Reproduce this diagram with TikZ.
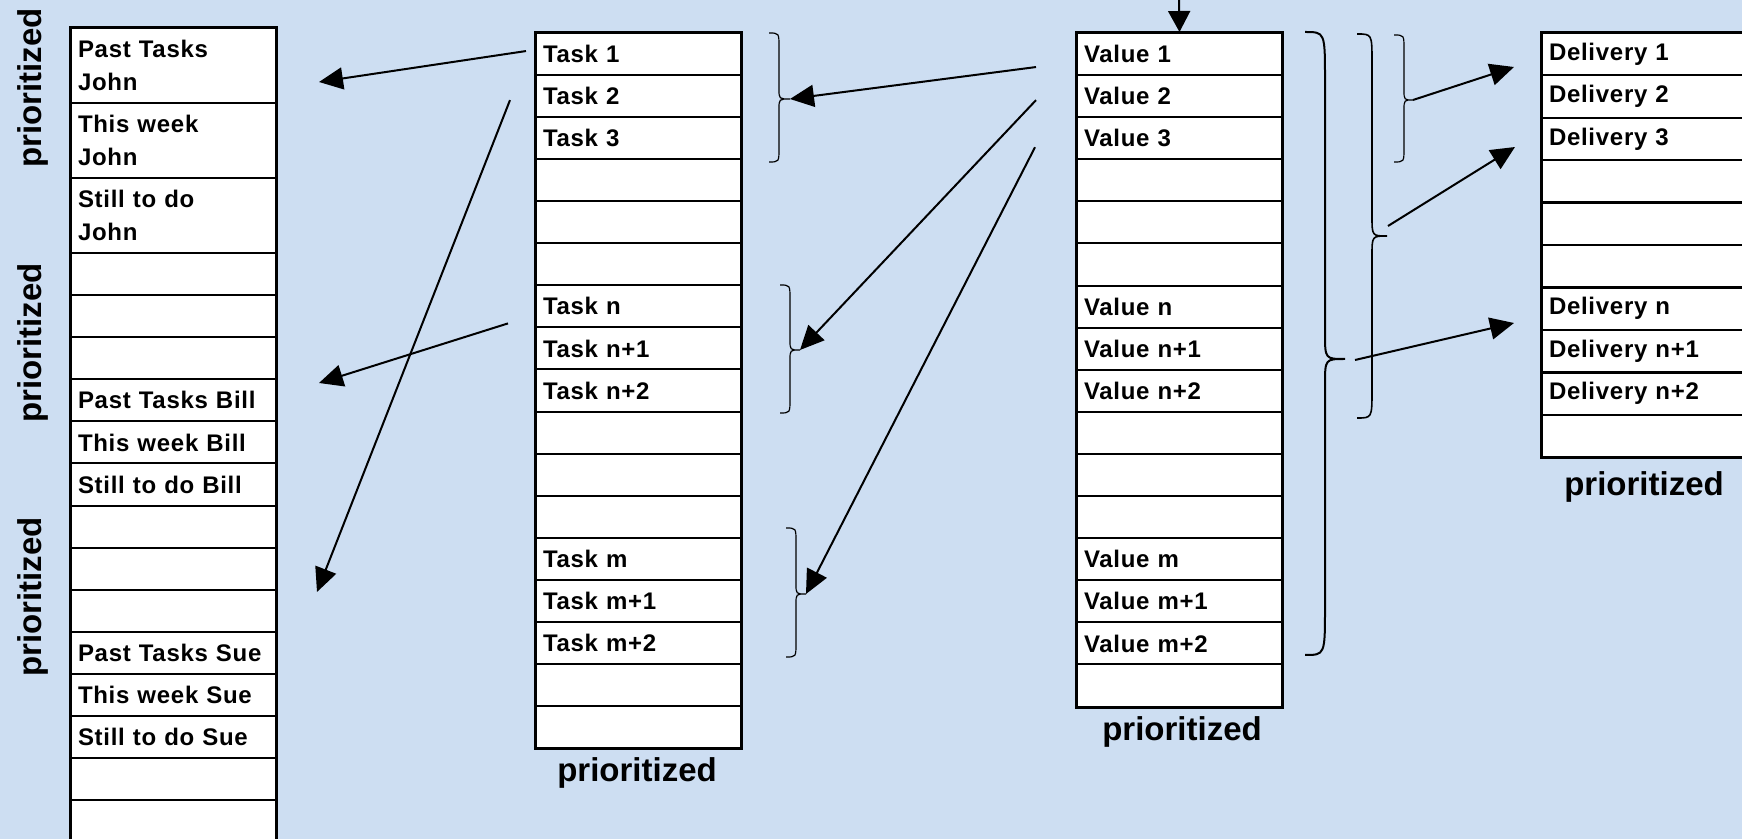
\documentclass[tikz,border=0pt]{standalone}
\usepackage{fontspec}
\setmainfont{Liberation Sans}
\newfontfamily\cellfamily[LetterSpace=3]{Liberation Sans}
\usetikzlibrary{arrows.meta,calc}
\definecolor{paper}{RGB}{205,222,242}

% right-hand curly brace: name, end x, top y, bottom y, bar x, tip x, tip y, end radius, middle radius
\newcommand{\bracepath}[9]{%
  \coordinate (#1) at (#6,#7);
  \draw (#2,#3) .. controls (#5,#3) .. (#5,#3+#8) -- (#5,#7-#9)
        .. controls (#5,#7) .. (#6,#7)
        .. controls (#5,#7) .. (#5,#7+#9) -- (#5,#4-#8)
        .. controls (#5,#4) .. (#2,#4);}

\tikzset{
  cell/.style={draw=black, line width=1pt, fill=white, anchor=north west,
    inner xsep=3.5pt, inner ysep=0pt, text width=95.5pt, minimum height=21.05pt,
    align=left, font=\cellfamily\bfseries\fontsize{12}{16.5}\selectfont},
  tallcell/.style={cell, minimum height=37.5pt},
  frame/.style={draw=black, line width=1.3pt},
  caption/.style={font=\bfseries\fontsize{16.5}{18}\selectfont, inner sep=0pt},
  arr/.style={draw=black, line width=1pt, -{Triangle[length=12pt,width=11pt]}},
}

\begin{document}
\begin{tikzpicture}[x=0.5pt,y=-0.5pt]
\useasboundingbox (0,0) rectangle (1742,839);
\fill[paper] (0,0) rectangle (1742,839);
\begin{scope}
\clip (0,0) rectangle (1742,839);

% people column
\node[tallcell] (p1) at (70,27) {Past Tasks\\John};
\node[tallcell] (p2) at (70,102) {This week\\John};
\node[tallcell] (p3) at (70,177) {Still to do\\John};
\foreach \i/\lbl in {4/,5/,6/,7/Past Tasks Bill,8/This week Bill,9/Still to do Bill,
    10/,11/,12/,13/Past Tasks Sue,14/This week Sue,15/Still to do Sue,16/}
  \node[cell] (p\i) at (70,{252+(\i-4)*42.1}) {\lbl};
\node[cell, minimum height=30pt] (p17) at (70,{252+13*42.1}) {};
\draw[frame] (p1.north west) rectangle (p17.south east);

% task column
\foreach \i/\lbl in {1/Task 1,2/Task 2,3/Task 3,4/,5/,6/,7/Task n,8/Task n+1,9/Task n+2,
    10/,11/,12/,13/Task m,14/Task m+1,15/Task m+2,16/,17/}
  \node[cell] (t\i) at (535,{32+(\i-1)*42.06}) {\lbl};
\draw[frame] (t1.north west) rectangle (t17.south east);

% value column
\foreach \i/\lbl in {1/Value 1,2/Value 2,3/Value 3,4/,5/,6/,7/Value n,8/Value n+1,9/Value n+2,
    10/,11/,12/,13/Value m,14/Value m+1,15/Value m+2,16/}
  \node[cell] (v\i) at (1076,{32+(\i-1)*42.1}) {\lbl};
\draw[frame] (v1.north west) rectangle (v16.south east);

% delivery column
\foreach \i/\lbl in {1/Delivery 1,2/Delivery 2,3/Delivery 3,4/,5/,6/,7/Delivery n,
    8/Delivery n+1,9/Delivery n+2,10/}
  \node[cell] (d\i) at (1541,{32+(\i-1)*42.44}) {\lbl};
\draw[frame] (d1.north west) rectangle (d10.south east);

% captions
\node[caption] (capT) at (637,773) {prioritized};
\node[caption] (capV) at (1182,732) {prioritized};
\node[caption] (capD) at (1644,487) {prioritized};
\node[caption, rotate=90] (capJ) at (33,88) {prioritized};
\node[caption, rotate=90] (capB) at (33,343) {prioritized};
\node[caption, rotate=90] (capS) at (33,597) {prioritized};

% braces
\begin{scope}[line width=0.6pt]
  \bracepath{bA}{769}{33}{162}{779}{790}{99}{14}{10}
  \bracepath{bB}{780}{285}{413}{790}{800}{350}{14}{10}
  \bracepath{bC}{786}{528}{657}{796}{806}{594}{14}{10}
  \bracepath{bS}{1394}{35}{162}{1404}{1413}{100}{14}{10}
\end{scope}
\begin{scope}[line width=0.8pt]
  \bracepath{bM}{1357}{34}{418}{1372}{1387}{236}{28}{20}
\end{scope}
\begin{scope}[line width=1pt]
  \bracepath{bL}{1305}{32}{655}{1325}{1345}{359}{48}{26}
\end{scope}

% free arrow ends
\coordinate (pJ) at (319,82);
\coordinate (pB) at (319,383);
\coordinate (pS) at (317,592);
\coordinate (dA) at (1514,67);
\coordinate (dB) at (1515,147);
\coordinate (dC) at (1514,323);
\coordinate (feed) at (1179,-5);

% connectors
\draw[arr] ($(t1.west)+(-9,-3)$) -- (pJ);
\draw[arr] ($(t2.west)+(-25,4)$) -- (pS);
\draw[arr] ($(t7.west)+(-27,17)$) -- (pB);
\draw[arr] ($(v1.west)+(-40,13)$) -- (bA);
\draw[arr] ($(v2.west)+(-40,4)$) -- (bB);
\draw[arr] ($(v3.west)+(-41,9)$) -- (bC);
\draw[arr] (bS) -- (dA);
\draw[arr] ($(bM)+(1,-10)$) -- (dB);
\draw[arr] ($(bL)+(10,1)$) -- (dC);
\draw[draw=black, line width=1pt, -{Triangle[length=10.5pt,width=11pt]}] (feed) -- (v1.north);
\end{scope}
\end{tikzpicture}
\end{document}
